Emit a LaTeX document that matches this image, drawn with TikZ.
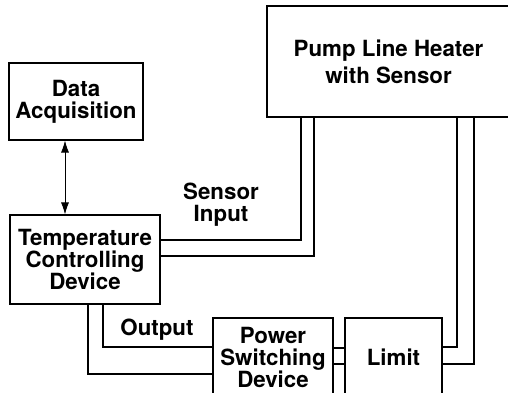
\documentclass[tikz,border=0pt]{standalone}
\usepackage{fontspec}
\setmainfont{TeX Gyre Heros}
\usetikzlibrary{arrows.meta}

\begin{document}
\begin{tikzpicture}[x=1pt,y=1pt,line width=1.1pt,
    blk/.style={draw, inner sep=0pt, align=center, font=\bfseries\fontsize{22.3}{22}\selectfont},
    lbl/.style={align=center, font=\bfseries\fontsize{22.3}{22}\selectfont}]
    \useasboundingbox (0,0) rectangle (508,-393);
    % boxes
    \node[blk, minimum width=134pt, minimum height=77pt] (acq) at (76,-101.5) {Data\\Acquisition};
    \node[blk, minimum width=150pt, minimum height=89pt] (tcd) at (85,-259.5) {Temperature\\Controlling\\Device};
    \node[blk, minimum width=243pt, minimum height=111pt] (heat) at (388.5,-61.5) {Pump Line Heater\\[5pt]with Sensor};
    \node[blk, minimum width=120pt, minimum height=78pt] (psd) at (273,-357) {Power\\Switching\\Device};
    \node[blk, minimum width=97pt, minimum height=78pt] (lim) at (393.5,-357) {Limit};
    % labels
    \node[lbl] (sens) at (221,-205) {Sensor\\Input};
    \node[lbl] (out) at (157,-330) {Output};
    % wires
    \draw[{Latex[length=12pt,width=8pt]}-{Latex[length=12pt,width=8pt]}, line width=0.8pt]
        ([xshift=-11pt]acq.south) -- ([xshift=-11pt]acq.south |- tcd.north);
    \draw ([yshift=19.5pt]tcd.east) -| ([xshift=-87.5pt]heat.south);
    \draw ([yshift=3.5pt]tcd.east) -| ([xshift=-74.5pt]heat.south);
    \draw ([yshift=10pt]lim.east) -| ([xshift=68.5pt]heat.south);
    \draw ([yshift=-7pt]lim.east) -| ([xshift=85.5pt]heat.south);
    \draw ([xshift=18pt]tcd.south) |- ([yshift=10pt]psd.west);
    \draw ([xshift=3pt]tcd.south) |- ([yshift=-17pt]psd.west);
    \draw ([yshift=9pt]psd.east) -- ([yshift=9pt]lim.west);
    \draw ([yshift=-7pt]psd.east) -- ([yshift=-7pt]lim.west);
\end{tikzpicture}
\end{document}
